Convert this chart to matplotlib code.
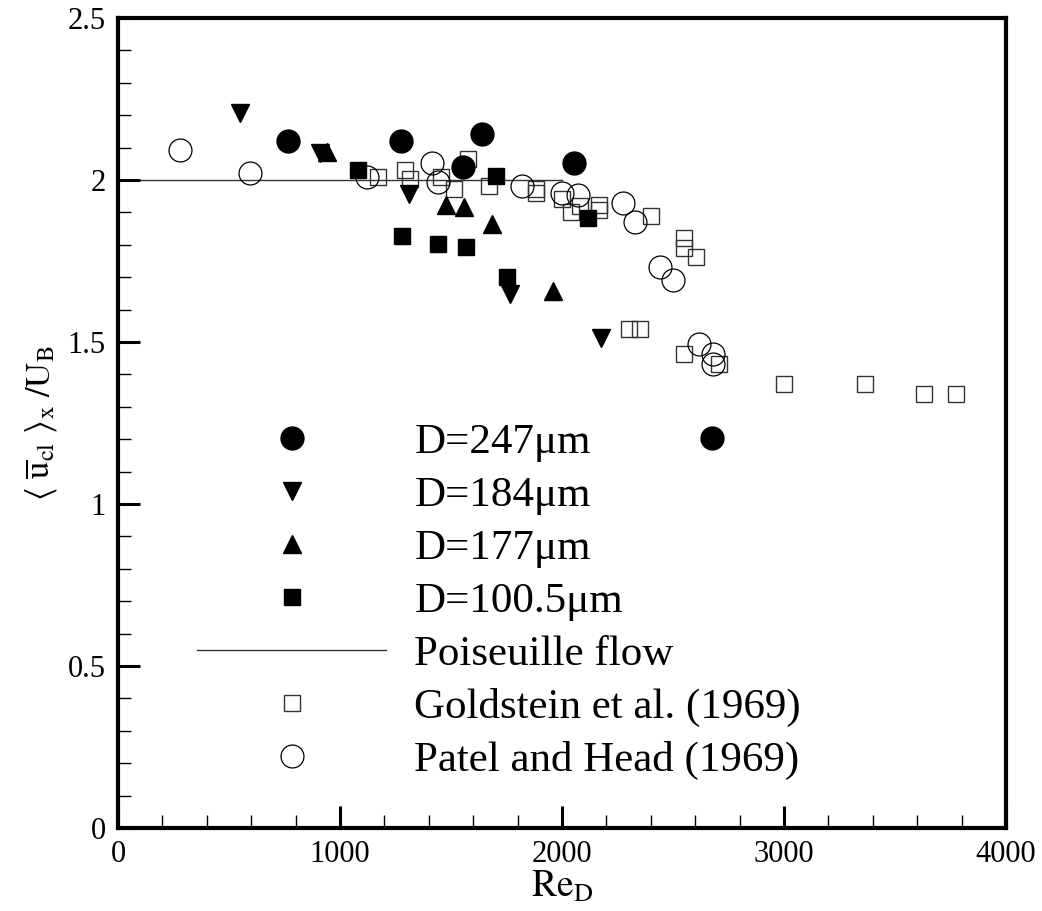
import numpy as np
import matplotlib
matplotlib.use("Agg")
import matplotlib.pyplot as plt
from matplotlib.ticker import MultipleLocator

plt.rcParams['font.family'] = ['Liberation Serif', 'DejaVu Serif']
plt.rcParams['mathtext.fontset'] = 'stix'

# D=247um (filled circles)
re_247 = [764, 1275, 1555, 1638, 2054, 2677]
u_247 = [2.121, 2.121, 2.041, 2.141, 2.052, 1.203]

# D=184um (down triangles)
re_184 = [550, 910, 1311, 1766, 2176]
u_184 = [2.206, 2.082, 1.957, 1.648, 1.511]

# D=177um (up triangles)
re_177 = [940, 1477, 1560, 1686, 1958]
u_177 = [2.087, 1.923, 1.916, 1.864, 1.657]

# D=100.5um (filled squares)
re_100 = [1082, 1281, 1443, 1568, 1701, 1754, 2118]
u_100 = [2.031, 1.826, 1.802, 1.792, 2.012, 1.700, 1.882]

# Poiseuille flow
re_pois = [0, 2000]
u_pois = [2.0, 2.0]

# Goldstein et al. (1969)
re_gold = [1170, 1293, 1315, 1455, 1515, 1575, 1673, 1883, 1883, 1999, 2039,
           2081, 2168, 2168, 2401, 2550, 2550, 2602, 2303, 2351, 2550, 2709,
           3000, 3365, 3632, 3775]
u_gold = [2.010, 2.031, 2.003, 2.010, 1.972, 2.064, 1.981, 1.972, 1.960, 1.941,
          1.900, 1.920, 1.923, 1.907, 1.890, 1.820, 1.789, 1.761, 1.540, 1.540,
          1.463, 1.431, 1.370, 1.370, 1.340, 1.340]

# Patel and Head (1969)
re_patel = [279, 595, 1120, 1413, 1443, 1821, 1999, 2071, 2273, 2329, 2441,
            2499, 2618, 2682, 2682]
u_patel = [2.093, 2.021, 2.010, 2.052, 1.993, 1.981, 1.959, 1.954, 1.930,
           1.871, 1.732, 1.691, 1.493, 1.463, 1.431]

fig = plt.figure(figsize=(10.42, 9.11), dpi=100)
ax = fig.add_axes([118 / 1042, 83 / 911, 888 / 1042, 810 / 911])

ax.plot(re_pois, u_pois, color='#333333', lw=1.0, label='Poiseuille flow', zorder=1)
ax.plot(re_gold, u_gold, ls='none', marker='s', ms=12, mfc='none', mec='#333333',
        mew=1.0, label='Goldstein et al. (1969)')
ax.plot(re_patel, u_patel, ls='none', marker='o', ms=16.5, mfc='none', mec='black',
        mew=0.9, label='Patel and Head (1969)')
ax.plot(re_247, u_247, ls='none', marker='o', ms=16.5, color='black', label='D=247\u03bcm')
ax.plot(re_184, u_184, ls='none', marker='v', ms=13, color='black', label='D=184\u03bcm')
ax.plot(re_177, u_177, ls='none', marker='^', ms=13, color='black', label='D=177\u03bcm')
ax.plot(re_100, u_100, ls='none', marker='s', ms=12, color='black', label='D=100.5\u03bcm')

ax.set_xlim(0, 4000)
ax.set_ylim(0, 2.5)
ax.xaxis.set_major_locator(MultipleLocator(1000))
ax.xaxis.set_minor_locator(MultipleLocator(200))
ax.yaxis.set_major_locator(MultipleLocator(0.5))
ax.yaxis.set_minor_locator(MultipleLocator(0.1))
ax.yaxis.set_major_formatter(plt.FuncFormatter(lambda v, p: '%g' % v))
ax.tick_params(which='both', direction='in', top=False, right=False, labelsize=22)
ax.tick_params(which='major', length=16, width=2.2, pad=9)
ax.tick_params(which='minor', length=9.5, width=1.0)
for s in ax.spines.values():
    s.set_linewidth(3)

ax.set_xlabel(r'$\mathrm{Re}_{\mathrm{D}}$', fontsize=27, labelpad=0)
ax.set_ylabel(r'$\langle\ \overline{\mathrm{u}}_{\mathrm{cl}}\ \rangle_{\mathrm{x}}\ /\mathrm{U}_{\mathrm{B}}$',
              fontsize=25, labelpad=6)

h, l = ax.get_legend_handles_labels()
order = [3, 4, 5, 6, 0, 1, 2]
fig.legend([h[i] for i in order], [l[i] for i in order], loc='upper left',
           bbox_to_anchor=(197 / 1042, 1 - 423 / 911), frameon=False,
           fontsize=31, handlelength=4.4, handletextpad=0.65, labelspacing=0.32,
           borderpad=0, borderaxespad=0)

fig.savefig('out.png', dpi=100)
